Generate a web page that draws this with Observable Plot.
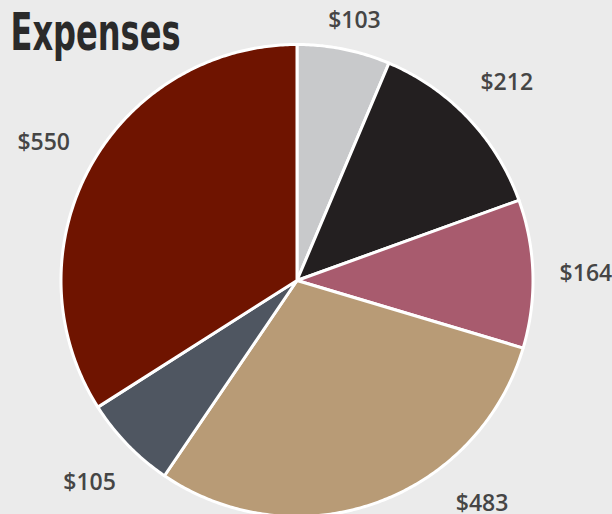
<!DOCTYPE html>
<html>
<head>
<meta charset="utf-8">
<script src="https://cdn.jsdelivr.net/npm/d3@7"></script>
<script src="https://cdn.jsdelivr.net/npm/@observablehq/plot@0.6"></script>
<style>
  html, body { margin: 0; padding: 0; background: #ebebeb; }
  #chart svg { display: block; }
</style>
</head>
<body>
<div id="chart"></div>
<script>
const categories = ["A", "B", "C", "D", "E", "F"];
const values = [103, 212, 164, 483, 105, 550];
const labels = ["$103", "$212", "$164", "$483", "$105", "$550"];
const colors = ["#c8c9cb", "#231f20", "#a85b6e", "#b89b76", "#4f5661", "#6f1400"];
const title = "Expenses";

const W = 612, H = 514;
const R = 236, CX = 296.5, CY = 280;
const total = d3.sum(values);

// slice polygons in unit-circle coordinates (angle 0 at top, clockwise)
const slices = [];
let acc = 0;
values.forEach((v, i) => {
  const a0 = acc / total * 2 * Math.PI;
  acc += v;
  const a1 = acc / total * 2 * Math.PI;
  const n = Math.max(2, Math.ceil((a1 - a0) / 0.01));
  slices.push({cat: categories[i], x: 0, y: 0});
  for (let j = 0; j <= n; j++) {
    const a = a0 + (a1 - a0) * j / n;
    slices.push({cat: categories[i], x: Math.sin(a), y: Math.cos(a)});
  }
  slices.push({cat: categories[i], x: 0, y: 0});
});

// label positions: outside the pie, kept inside the picture
const lab = [];
acc = 0;
const LR = R + 53;
const minY = 19, maxY = H - 12;
values.forEach((v, i) => {
  const mid = (acc + v / 2) / total * 2 * Math.PI;
  acc += v;
  let px = CX + LR * Math.sin(mid);
  let py = CY - LR * Math.cos(mid);
  if (py > maxY) {
    const c = (CY - maxY) / LR;
    const a = Math.acos(c);
    px = CX + Math.sign(Math.sin(mid)) * LR * Math.sin(a);
    py = maxY;
  } else if (py < minY) {
    py = minY;
  }
  lab.push({label: labels[i], x: (px - CX) / R, y: (CY - py) / R});
});

const plot = Plot.plot({
  width: W,
  height: H,
  margin: 0,
  style: {background: "#ebebeb", overflow: "visible"},
  x: {domain: [-1, 1], range: [CX - R, CX + R], axis: null},
  y: {domain: [-1, 1], range: [CY + R, CY - R], axis: null},
  color: {domain: categories, range: colors},
  marks: [
    Plot.line(slices, {
      x: "x", y: "y", z: "cat", fill: "cat",
      stroke: "#ffffff", strokeWidth: 3, strokeLinejoin: "round", curve: "linear"
    }),
    Plot.text(lab, {
      x: "x", y: "y", text: "label",
      fill: "#454545", fontSize: 23, fontWeight: 600,
      fontFamily: "'Open Sans', sans-serif", textAnchor: "middle", dy: 1
    }),
    Plot.text([title], {
      frameAnchor: "top-left", dx: 10, dy: 13,
      fill: "#2a2a2a", fontSize: 52, fontWeight: 700,
      fontFamily: "'DejaVu Sans Condensed', 'DejaVu Sans', sans-serif",
      lineAnchor: "top", textAnchor: "start",
      className: "title-mark"
    })
  ]
});
d3.select(plot).selectAll(".title-mark text")
  .attr("textLength", 170)
  .attr("lengthAdjust", "spacingAndGlyphs")
  .style("font-stretch", "condensed");
document.getElementById("chart").appendChild(plot);
</script>
</body>
</html>
